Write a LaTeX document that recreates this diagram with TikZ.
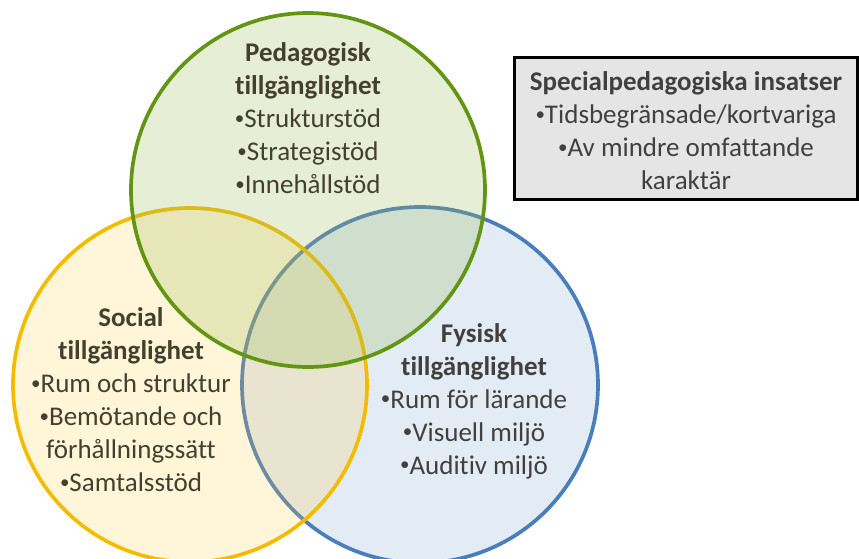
\documentclass[tikz,border=0pt]{standalone}
\usepackage{fontspec}
\setmainfont{Carlito}[Ligatures=NoCommon]
\definecolor{pedgreen}{RGB}{98,150,18}
\definecolor{pedfill}{RGB}{155,187,89}
\definecolor{socyellow}{RGB}{243,188,0}
\definecolor{socfill}{RGB}{255,204,60}
\definecolor{fysblue}{RGB}{74,125,187}
\definecolor{fysfill}{RGB}{79,129,189}
\definecolor{boxgray}{RGB}{229,229,229}
\definecolor{txtgray}{RGB}{64,64,64}
\definecolor{txtolive}{RGB}{68,64,46}
\newcommand{\bul}{\raisebox{0.12em}{\fontsize{19}{19}\selectfont•}}
\tikzset{
  ring/.style={line width=3.7pt},
  circtext/.style={align=center, font=\fontsize{27}{33}\selectfont, text=txtolive, inner sep=0pt},
  insatsbox/.style={draw=black, line width=3pt, fill=boxgray, minimum width=343pt, minimum height=142pt}
}
\begin{document}
\begin{tikzpicture}[x=1pt,y=-1pt]
\useasboundingbox (0,0) rectangle (859,558);
% the three circles
\filldraw [ring, draw=fysblue, fill=fysfill, fill opacity=0.16] (420,385) circle (178pt);
\filldraw [ring, draw=socyellow, fill=socfill, fill opacity=0.2] (190,385) circle (177pt);
\filldraw [ring, draw=pedgreen, fill=pedfill, fill opacity=0.25] (308,190) circle (177pt);
% texts
\node [circtext] (ped) at (308,118) {\textbf{Pedagogisk}\\\textbf{tillgänglighet}\\\bul Strukturstöd\\\bul Strategistöd\\\bul Innehållstöd};
\node [circtext] (soc) at (131,400) {\textbf{Social}\\\textbf{tillgänglighet}\\\bul Rum och struktur\\\bul Bemötande och\\förhållningssätt\\\bul Samtalsstöd};
\node [circtext, text=txtgray] (fys) at (474,401) {\textbf{Fysisk}\\\textbf{tillgänglighet}\\\bul Rum för lärande\\\bul Visuell miljö\\\bul Auditiv miljö};
% box
\node [insatsbox] (insats) at (685.5,128) {};
\node [circtext, text=txtgray] (insatstext) at (686,131) {\textbf{Specialpedagogiska insatser}\\\bul Tidsbegränsade/kortvariga\\\bul Av mindre omfattande\\karaktär};
\end{tikzpicture}
\end{document}
